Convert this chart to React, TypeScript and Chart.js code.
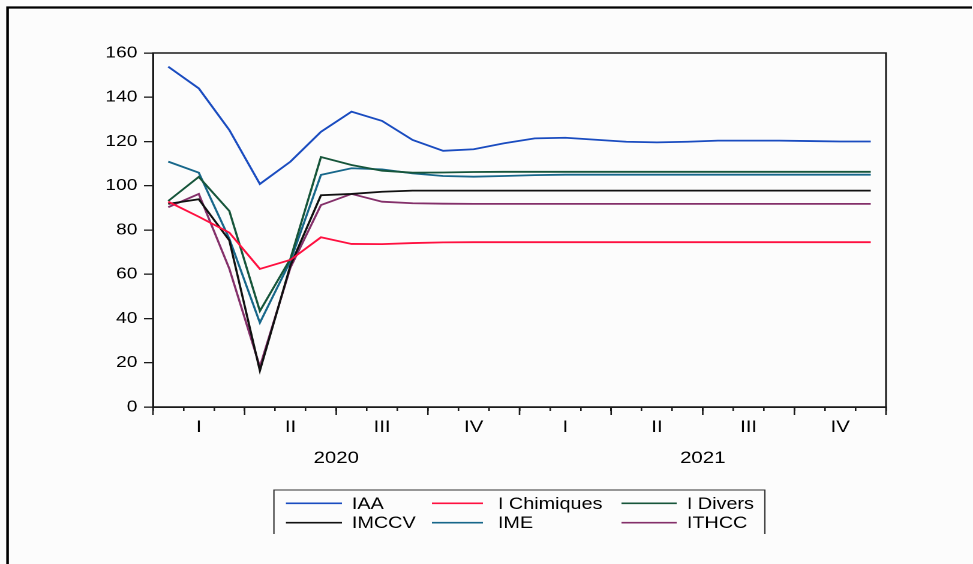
import React, { useEffect, useRef } from "react";
import { Chart, registerables } from "chart.js";

Chart.register(...registerables);

// ---- data ----
const MONTHS = [
  "2020-01", "2020-02", "2020-03", "2020-04", "2020-05", "2020-06",
  "2020-07", "2020-08", "2020-09", "2020-10", "2020-11", "2020-12",
  "2021-01", "2021-02", "2021-03", "2021-04", "2021-05", "2021-06",
  "2021-07", "2021-08", "2021-09", "2021-10", "2021-11", "2021-12",
];
const QUARTERS = ["I", "II", "III", "IV"];
const YEARS = ["2020", "2021"];
const Y_TICKS = [0, 20, 40, 60, 80, 100, 120, 140, 160];

const IAA = [153.8, 144.0, 125.2, 100.8, 110.9, 124.4, 133.5, 129.3, 120.7, 115.8, 116.5, 119.2, 121.4, 121.7, 120.8, 119.9, 119.6, 119.9, 120.4, 120.4, 120.4, 120.2, 120.0, 120.0];
const I_CHIMIQUES = [92.8, 86.0, 78.8, 62.4, 66.5, 76.7, 73.7, 73.6, 74.1, 74.4, 74.5, 74.5, 74.5, 74.5, 74.5, 74.5, 74.5, 74.5, 74.5, 74.5, 74.5, 74.5, 74.5, 74.5];
const I_DIVERS = [93.1, 104.0, 88.6, 43.4, 67.0, 113.0, 109.4, 106.8, 105.9, 106.0, 106.2, 106.3, 106.3, 106.3, 106.3, 106.3, 106.3, 106.3, 106.3, 106.3, 106.3, 106.3, 106.3, 106.3];
const IMCCV = [91.8, 93.9, 75.3, 16.4, 64.0, 95.7, 96.3, 97.3, 97.8, 97.8, 97.8, 97.8, 97.8, 97.8, 97.8, 97.8, 97.8, 97.8, 97.8, 97.8, 97.8, 97.8, 97.8, 97.8];
const IME = [110.9, 105.9, 76.0, 38.1, 66.0, 104.9, 107.9, 107.4, 105.6, 104.4, 104.1, 104.4, 104.8, 105.0, 105.0, 105.0, 105.0, 105.0, 105.0, 105.0, 105.0, 105.0, 105.0, 105.0];
const ITHCC = [90.3, 96.3, 62.5, 18.2, 63.0, 91.3, 96.3, 92.8, 92.1, 91.9, 91.8, 91.8, 91.8, 91.8, 91.8, 91.8, 91.8, 91.8, 91.8, 91.8, 91.8, 91.8, 91.8, 91.8];

const SERIES_NAMES = ["IAA", "I Chimiques", "I Divers", "IMCCV", "IME", "ITHCC"];
const SERIES_VALUES = [IAA, I_CHIMIQUES, I_DIVERS, IMCCV, IME, ITHCC];
const SERIES_COLORS = ["#1a4cc0", "#ff1040", "#16553a", "#111111", "#17678a", "#84306a"];

// ---- layout (canvas coordinates; canvas is stretched horizontally) ----
const CW = 811;
const CH = 564;
const SX = 973 / CW;
const FONT = "'Liberation Sans', Arial, Helvetica, sans-serif";

const framePlugin = {
  id: "framePlugin",
  beforeDraw(chart: any) {
    const ctx = chart.ctx;
    ctx.save();
    ctx.fillStyle = "#fcfcfc";
    ctx.fillRect(0, 0, chart.width, chart.height);
    ctx.restore();
  },
  afterDraw(chart: any) {
    const ctx = chart.ctx;
    const a = chart.chartArea;
    ctx.save();
    // plot border
    ctx.strokeStyle = "#1a1a1a";
    ctx.lineWidth = 1.5;
    ctx.strokeRect(a.left, a.top, a.right - a.left, a.bottom - a.top);
    // long ticks at quarter boundaries
    const xs = chart.scales.x;
    const n = xs.getLabels().length;
    const half = (xs.getPixelForValue(1) - xs.getPixelForValue(0)) / 2;
    ctx.lineWidth = 1.3;
    for (let i = 0; i <= n; i += 3) {
      const px = i < n ? xs.getPixelForValue(i) - half : xs.getPixelForValue(n - 1) + half;
      ctx.beginPath();
      ctx.moveTo(px, a.bottom);
      ctx.lineTo(px, a.bottom + 8);
      ctx.stroke();
    }
    // outer frame (left + top visible)
    ctx.strokeStyle = "#000";
    ctx.lineWidth = 2.2;
    ctx.beginPath();
    ctx.moveTo(6.3, CH + 2);
    ctx.lineTo(6.3, 7.5);
    ctx.lineTo(810, 7.5);
    ctx.stroke();
    // legend box (open bottom)
    const lx0 = 228.3, lx1 = 637.5, ly0 = 490, ly1 = 534;
    ctx.strokeStyle = "#333";
    ctx.lineWidth = 1.1;
    ctx.beginPath();
    ctx.moveTo(lx0, ly1);
    ctx.lineTo(lx0, ly0);
    ctx.lineTo(lx1, ly0);
    ctx.lineTo(lx1, ly1);
    ctx.stroke();
    const colLine = [[238.3, 285], [360, 402.5], [518, 564]];
    const colText = [293.3, 415, 572.5];
    const rowY = [503.3, 522.7];
    ctx.font = `16.5px ${FONT}`;
    ctx.textBaseline = "middle";
    ctx.textAlign = "left";
    chart.data.datasets.forEach((ds: any, i: number) => {
      const c = i % 3;
      const r = Math.floor(i / 3);
      ctx.strokeStyle = ds.borderColor;
      ctx.lineWidth = 1.7;
      ctx.beginPath();
      ctx.moveTo(colLine[c][0], rowY[r]);
      ctx.lineTo(colLine[c][1], rowY[r]);
      ctx.stroke();
      ctx.fillStyle = "#000";
      ctx.fillText(ds.label, colText[c], rowY[r] + 1);
    });
    ctx.restore();
  },
};

export default function App() {
  const ref = useRef<HTMLCanvasElement | null>(null);

  useEffect(() => {
    document.body.style.margin = "0";
    document.body.style.overflow = "hidden";
    const canvas = ref.current;
    if (!canvas) return;
    const chart = new Chart(canvas, {
      type: "line",
      data: {
        labels: MONTHS,
        datasets: SERIES_NAMES.map((name, i) => ({
          label: name,
          data: SERIES_VALUES[i],
          borderColor: SERIES_COLORS[i],
          backgroundColor: SERIES_COLORS[i],
          borderWidth: 1.8,
          pointRadius: 0,
          tension: 0,
          fill: false,
        })),
      },
      options: {
        animation: false,
        responsive: false,
        devicePixelRatio: 2,
        events: [],
        layout: { padding: { left: 0, right: CW - 738.5, top: 53, bottom: 564 - 407 - 41 - 30 } },
        plugins: { legend: { display: false }, tooltip: { enabled: false }, title: { display: false } },
        scales: {
          x: {
            type: "category",
            position: "bottom",
            offset: true,
            weight: 0,
            grid: { display: true, drawOnChartArea: false, drawTicks: true, tickLength: 4, color: "#1a1a1a", lineWidth: 1.3, offset: true },
            border: { display: true, color: "#1a1a1a", width: 1.5 },
            ticks: {
              autoSkip: false,
              maxRotation: 0,
              minRotation: 0,
              padding: 6,
              color: "#000",
              font: { family: FONT, size: 17 },
              callback: (_v: any, idx: number) => (idx % 3 === 1 ? QUARTERS[Math.floor(idx / 3) % 4] : ""),
            },
            afterFit: (s: any) => { s.height = 41; },
          },
          x2: {
            type: "category",
            position: "bottom",
            labels: YEARS,
            offset: true,
            weight: 1,
            grid: { display: false, drawTicks: false },
            border: { display: false },
            ticks: { autoSkip: false, maxRotation: 0, padding: 0, color: "#000", font: { family: FONT, size: 17 } },
            afterFit: (s: any) => { s.height = 30; },
          },
          y: {
            min: 0,
            max: 160,
            grid: { drawOnChartArea: false, tickLength: 7.5, color: "#1a1a1a", lineWidth: 1.3 },
            border: { display: true, color: "#1a1a1a", width: 1.5 },
            afterBuildTicks: (s: any) => { s.ticks = Y_TICKS.map((v) => ({ value: v })); },
            ticks: { padding: 5.5, color: "#000", font: { family: FONT, size: 16 } },
            afterFit: (s: any) => { s.width = 127.5; },
          },
        },
      },
      plugins: [framePlugin],
    } as any);
    return () => chart.destroy();
  }, []);

  return (
    <div
      style={{
        position: "absolute",
        left: 0,
        top: 0,
        width: CW,
        height: CH,
        transform: `scaleX(${SX})`,
        transformOrigin: "0 0",
      }}
    >
      <canvas ref={ref} width={CW} height={CH} style={{ width: CW, height: CH, display: "block" }} />
    </div>
  );
}
